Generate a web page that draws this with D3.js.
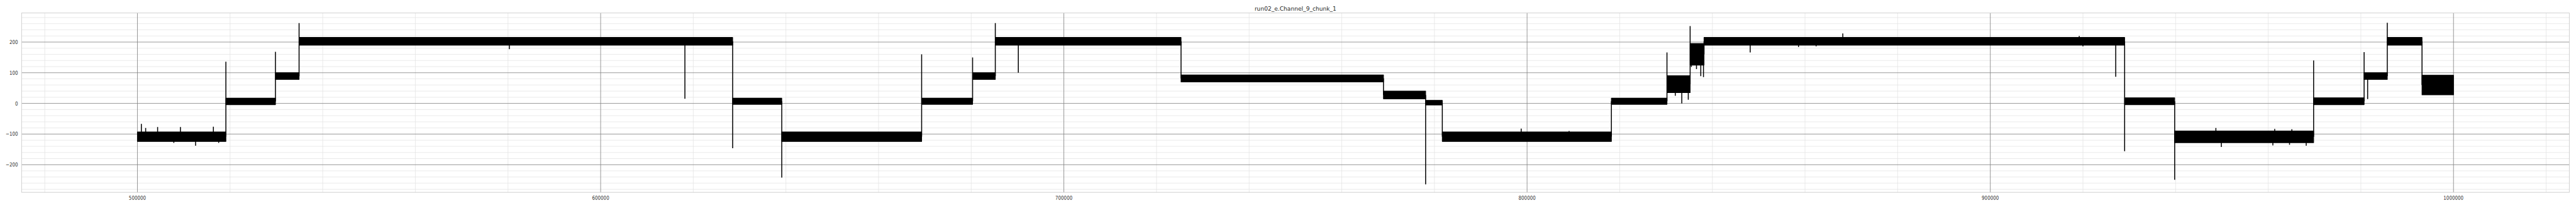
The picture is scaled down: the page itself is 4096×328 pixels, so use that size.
<!DOCTYPE html>
<html><head><meta charset="utf-8">
<script src="https://cdn.jsdelivr.net/npm/d3@7"></script>
<style>html,body{margin:0;padding:0;background:#fff;overflow:hidden}</style>
</head><body>
<script>
// ---------- data ----------
const chartTitle = "run02_e.Channel_9_chunk_1";
const xTicks = [500000, 600000, 700000, 800000, 900000, 1000000];
const yTicks = [-200, -100, 0, 100, 200];
// plateau segments of the signal (sample index) and their noise envelope (pA)
const segStart = [500000, 519100, 529800, 534900, 628500, 639100, 669300, 680300, 685200, 725300, 769000, 778100, 781700, 818200, 830200, 835200, 838200, 929000, 939800, 969800, 980700, 985700, 993200];
const segEnd   = [519100, 529800, 534900, 628500, 639100, 669300, 680300, 685200, 725300, 769000, 778100, 781700, 818200, 830200, 835200, 838200, 929000, 939800, 969800, 980700, 985700, 993200, 1000000];
const segLo    = [-124, -4, 78, 190, -3, -124, -3, 78, 190, 70, 15, -5, -124, -3, 35, 125, 190, -4, -128, -4, 78, 190, 28];
const segHi    = [-93, 17, 100, 215, 17, -93, 17, 100, 215, 93, 40, 10, -93, 17, 90, 195, 215, 18, -90, 18, 100, 215, 92];
// extreme value reached at each step between segments (null = plain step)
const stepPeak = [136, 168, 262, -146, -242, 160, 150, 262, null, null, -264, null, null, 166, 252, null, -156, -249, 140, 167, 263, null];
// isolated spikes and edge bumps inside plateaus
const spikeX = [500850, 501780, 504360, 507860, 509290, 512560, 516400, 517540, 580290, 618190, 690170, 798730, 809070, 832000, 833400, 834800, 835470, 836570, 837500, 838080, 848170, 858600, 862400, 868160, 919200, 920000, 927080, 948700, 949880, 961000, 961400, 964600, 965100, 968200, 981460, 995250];
const spikeY = [-67, -80, -77, -129, -77, -138, -76, -129, 177, 15, 100, -82, -90, 25, 0, 12, 119, 112, 89, 86, 166, 184, 186, 228, 220, 186, 87, -80, -142, -137, -83, -135, -84, -138, 14, 40];

// ---------- layout ----------
const S = 4096 / 5400;
const m = {l: 45.3, r: 5386, t: 27.3, b: 403.7};
const svg = d3.select("body").append("svg").attr("width", 4096).attr("height", 328);
const g = svg.append("g").attr("transform", `scale(${S})`);
const x = d3.scaleLinear().domain([475000, 1025000]).range([m.l, m.r]);
const y = d3.scaleLinear().domain([-290, 294.8]).range([m.b, m.t]);

const xMinor = d3.range(480000, 1025001, 20000).filter(v => !xTicks.includes(v));
const yMinor = d3.range(-280, 281, 20).filter(v => !yTicks.includes(v));

const grid = g.append("g");
grid.selectAll(".xm").data(xMinor).join("line")
  .attr("x1", d => x(d)).attr("x2", d => x(d)).attr("y1", m.t).attr("y2", m.b)
  .attr("stroke", "#e3e3e3").attr("stroke-width", 1);
grid.selectAll(".ym").data(yMinor).join("line")
  .attr("x1", m.l).attr("x2", m.r).attr("y1", d => y(d)).attr("y2", d => y(d))
  .attr("stroke", "#e3e3e3").attr("stroke-width", 1);
grid.selectAll(".xM").data(xTicks).join("line")
  .attr("x1", d => x(d)).attr("x2", d => x(d)).attr("y1", m.t).attr("y2", m.b)
  .attr("stroke", "#838383").attr("stroke-width", 1.1);
grid.selectAll(".yM").data(yTicks).join("line")
  .attr("x1", m.l).attr("x2", m.r).attr("y1", d => y(d)).attr("y2", d => y(d))
  .attr("stroke", "#838383").attr("stroke-width", 1.1);

// ---------- signal ----------
g.append("clipPath").attr("id", "clip").append("rect")
  .attr("x", m.l).attr("y", m.t).attr("width", m.r - m.l).attr("height", m.b - m.t);
const sig = g.append("g").attr("clip-path", "url(#clip)");
const segs = segStart.map((s, i) => ({s, e: segEnd[i], lo: segLo[i], hi: segHi[i]}));
const area = d3.area().x(d => x(d[0])).y0(d => y(d[1])).y1(d => y(d[2]));
sig.selectAll(".band").data(segs).join("path")
  .attr("d", d => area([[d.s, d.lo, d.hi], [d.e, d.lo, d.hi]]))
  .attr("fill", "#000").attr("stroke", "#000").attr("stroke-width", 1.5).attr("stroke-linejoin", "round");
// steps
const steps = stepPeak.map((p, i) => {
  const a = segs[i], b = segs[i + 1];
  const mid = v => (v.lo + v.hi) / 2;
  let top = Math.max(mid(a), mid(b)), bot = Math.min(mid(a), mid(b));
  if (p !== null) { top = Math.max(top, p); bot = Math.min(bot, p); }
  return {t: b.s, top, bot};
});
sig.selectAll(".step").data(steps).join("line")
  .attr("x1", d => x(d.t)).attr("x2", d => x(d.t)).attr("y1", d => y(d.top)).attr("y2", d => y(d.bot))
  .attr("stroke", "#000").attr("stroke-width", 2);
// spikes
const spikes = spikeX.map((t, i) => {
  const sg = segs.find(s => t >= s.s && t <= s.e);
  return {t, v: spikeY[i], base: (sg.lo + sg.hi) / 2};
});
sig.selectAll(".spk").data(spikes).join("line")
  .attr("x1", d => x(d.t)).attr("x2", d => x(d.t)).attr("y1", d => y(d.base)).attr("y2", d => y(d.v))
  .attr("stroke", "#000").attr("stroke-width", 2);

// ---------- spines ----------
g.append("rect").attr("x", m.l).attr("y", m.t).attr("width", m.r - m.l).attr("height", m.b - m.t)
  .attr("fill", "none").attr("stroke", "#cccccc").attr("stroke-width", 1.2);

// ---------- labels ----------
const font = "DejaVu Sans, sans-serif";
g.selectAll(".xl").data(xTicks).join("text")
  .attr("transform", d => `translate(${x(d)},${m.b + 15}) scale(0.82,1)`)
  .attr("text-anchor", "middle").attr("font-family", font).attr("font-size", 11.5)
  .attr("fill", "#333").text(d => d);
g.selectAll(".yl").data(yTicks).join("text")
  .attr("transform", d => `translate(${m.l - 7.6},${y(d) + 4}) scale(0.82,1)`)
  .attr("text-anchor", "end").attr("font-family", font).attr("font-size", 11.5)
  .attr("fill", "#333").text(d => d < 0 ? "\u2212" + Math.abs(d) : d);
g.append("text").attr("x", (m.l + m.r) / 2).attr("y", 22)
  .attr("text-anchor", "middle").attr("font-family", font).attr("font-size", 12)
  .attr("fill", "#262626").text(chartTitle);
</script>
</body></html>
